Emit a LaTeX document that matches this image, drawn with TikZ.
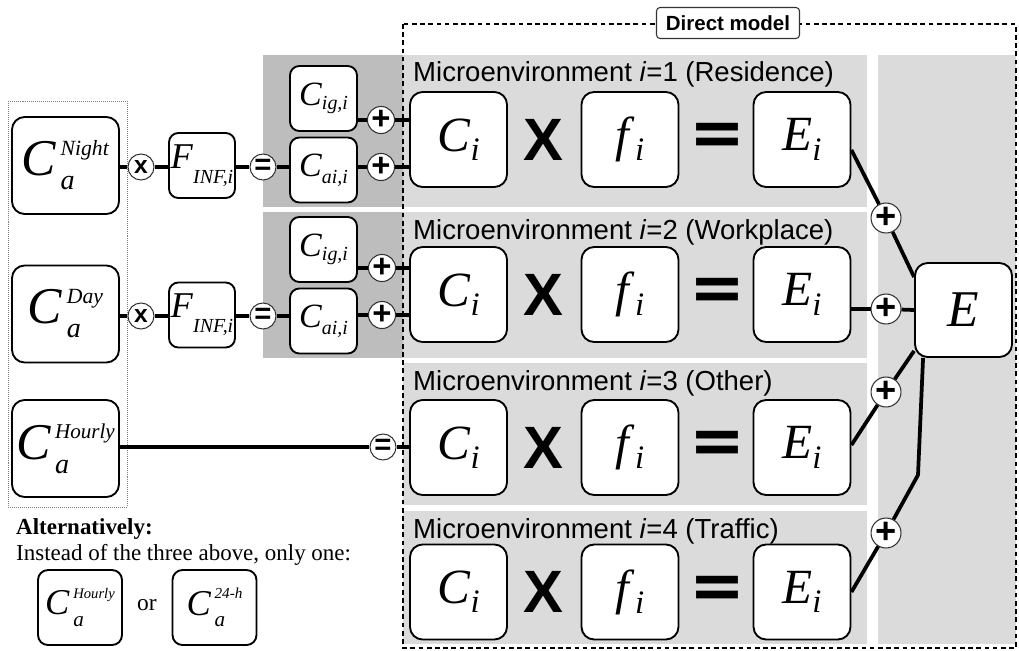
\documentclass[tikz,border=0pt]{standalone}
\usepackage{fontspec}
\setmainfont{Liberation Serif}
\newfontfamily\arial{Liberation Sans}
\newfontfamily\djv{DejaVu Sans}
\usetikzlibrary{calc}
\definecolor{lg}{gray}{0.86}
\definecolor{dg}{gray}{0.74}
% base size, base letter, sub size, sub text, sub drop
\newcommand\SymS[5]{{\fontsize{#1}{#1}\selectfont\textit{#2}}\raisebox{-#5}{\fontsize{#3}{#3}\selectfont\textit{#4}}}
% base size, base letter, sub size, sub text, sub drop, sup size, sup text, sup raise, gap
\newcommand\SymSS[9]{{\fontsize{#1}{#1}\selectfont\textit{#2}}\kern#9%
  \setbox0=\hbox{\fontsize{#6}{#6}\selectfont\textit{#7}}%
  \setbox2=\hbox{\fontsize{#3}{#3}\selectfont\textit{#4}}%
  \rlap{\raisebox{#8}{\copy0}}\raisebox{-#5}{\copy2}%
  \ifdim\wd0>\wd2 \kern\dimexpr\wd0-\wd2\relax\fi}
\begin{document}
\begin{tikzpicture}[x=0.03cm,y=-0.03cm,
  box/.style={draw=black, line width=1.6pt, fill=white, inner sep=0pt, rounded corners=0.38cm},
  bigbox/.style={box, minimum width=3.21cm, minimum height=2.91cm},
  mbox/.style={box, minimum width=2.91cm, minimum height=2.85cm},
  sbox/.style={box, rounded corners=0.28cm, minimum width=1.98cm, minimum height=1.95cm},
  abox/.style={box, rounded corners=0.3cm, minimum width=2.52cm, minimum height=2.25cm},
  opc/.style={circle, draw=black!80, line width=0.9pt, fill=white, inner sep=0pt, minimum size=0.78cm},
  opcr/.style={opc, minimum size=0.86cm},
  plus/.style={font=\arial\bfseries\fontsize{28pt}{28pt}\selectfont},
  conn/.style={line width=3.2pt, black},
  rowlab/.style={anchor=base west, inner sep=0pt, font=\arial\fontsize{23.5pt}{23.5pt}\selectfont},
  opX/.style={inner sep=0pt, font=\arial\bfseries\fontsize{51pt}{51pt}\selectfont},
  opEq/.style={inner sep=0pt, font=\djv\bfseries\fontsize{57pt}{57pt}\selectfont},
  dmlabel/.style={draw=black!80, line width=0.9pt, fill=white, rounded corners=3pt, minimum width=4.29cm, minimum height=0.93cm, inner sep=0pt, font=\arial\bfseries\fontsize{17.5pt}{17.5pt}\selectfont},
  serif/.style={anchor=base west, inner sep=0pt, font=\fontsize{19.6pt}{19.6pt}\selectfont}
]
\useasboundingbox (0,0) rectangle (1019,650);

% background panels
\fill[dg] (263,55) rectangle (403,207);
\fill[dg] (263,212) rectangle (403,358);
\fill[lg] (403,55) rectangle (867,207);
\fill[lg] (403,212) rectangle (867,358);
\fill[lg] (403,363) rectangle (867,505);
\fill[lg] (403,511) rectangle (867,644);
\fill[lg] (878,55) rectangle (1016,644);

% left dotted frame
\draw[gray, line width=0.7pt, densely dotted] (8,101) rectangle (127,507);

% direct model frame
\draw[line width=2.2pt, dash pattern=on 4pt off 3pt] (403,24) rectangle (1016,648);
\node[dmlabel] (dm) at (728,23) {Direct model};

% row labels
\node[rowlab] (l1) at (413,82) {Microenvironment \textit{i}=1 (Residence)};
\node[rowlab] (l2) at (413,239) {Microenvironment \textit{i}=2 (Workplace)};
\node[rowlab] (l3) at (413,390) {Microenvironment \textit{i}=3 (Other)};
\node[rowlab] (l4) at (413,538) {Microenvironment \textit{i}=4 (Traffic)};

% rows
\node[mbox] (Ci1) at (458.5,139.5) {\SymS{42pt}{C}{28pt}{i}{8pt}};
\node[opX] (X1) at (543,139.5) {X};
\node[mbox] (f1) at (630,139.5) {\SymS{42pt}{f}{28pt}{i}{8pt}};
\node[opEq] (q1) at (717,139.5) {=};
\node[mbox] (Ei1) at (802,139.5) {\SymS{42pt}{E}{28pt}{i}{8pt}};

\node[mbox] (Ci2) at (458.5,294.5) {\SymS{42pt}{C}{28pt}{i}{8pt}};
\node[opX] (X2) at (543,294.5) {X};
\node[mbox] (f2) at (630,294.5) {\SymS{42pt}{f}{28pt}{i}{8pt}};
\node[opEq] (q2) at (717,294.5) {=};
\node[mbox] (Ei2) at (802,294.5) {\SymS{42pt}{E}{28pt}{i}{8pt}};

\node[mbox] (Ci3) at (458.5,447.5) {\SymS{42pt}{C}{28pt}{i}{8pt}};
\node[opX] (X3) at (543,447.5) {X};
\node[mbox] (f3) at (630,447.5) {\SymS{42pt}{f}{28pt}{i}{8pt}};
\node[opEq] (q3) at (717,447.5) {=};
\node[mbox] (Ei3) at (802,447.5) {\SymS{42pt}{E}{28pt}{i}{8pt}};

\node[mbox] (Ci4) at (458.5,592) {\SymS{42pt}{C}{28pt}{i}{8pt}};
\node[opX] (X4) at (543,592) {X};
\node[mbox] (f4) at (630,592) {\SymS{42pt}{f}{28pt}{i}{8pt}};
\node[opEq] (q4) at (717,592) {=};
\node[mbox] (Ei4) at (802,592) {\SymS{42pt}{E}{28pt}{i}{8pt}};

% total
\node[box, minimum width=2.91cm, minimum height=2.82cm] (E) at (963.5,310) {{\fontsize{44pt}{44pt}\selectfont\textit{E}}};

% left inputs
\node[bigbox] (Ngt) at (65.5,165.5) {\SymSS{44pt}{C}{24pt}{a}{12pt}{18.5pt}{Night}{17pt}{3.5pt}};
\node[bigbox] (Day) at (65.5,314) {\SymSS{44pt}{C}{24pt}{a}{12pt}{18.5pt}{Day}{17pt}{3.5pt}};
\node[bigbox] (Hr) at (65.5,448.5) {\SymSS{44pt}{C}{24pt}{a}{12pt}{18pt}{Hourly}{18pt}{3.5pt}};

\node[sbox] (F1) at (202,165.5) {\SymS{31pt}{F}{17pt}{INF,i}{13pt}};
\node[sbox] (F2) at (202,315) {\SymS{31pt}{F}{17pt}{INF,i}{13pt}};

\node[sbox, minimum width=2.01cm] (Cig1) at (323.5,98.5) {\SymS{29pt}{C}{17pt}{ig,i}{4pt}};
\node[sbox, minimum width=2.01cm] (Cai1) at (323.5,170) {\SymS{29pt}{C}{17pt}{ai,i}{6pt}};
\node[sbox, minimum width=2.01cm] (Cig2) at (323.5,249.5) {\SymS{29pt}{C}{17pt}{ig,i}{4pt}};
\node[sbox, minimum width=2.01cm] (Cai2) at (323.5,321) {\SymS{29pt}{C}{17pt}{ai,i}{6pt}};

% operator circles
\node[opc, font=\arial\bfseries\fontsize{21pt}{21pt}\selectfont] (ox1) at (141,167) {x};
\node[opc, font=\arial\bfseries\fontsize{21pt}{21pt}\selectfont] (ox2) at (141,316) {x};
\node[opc, font=\arial\bfseries\fontsize{25pt}{25pt}\selectfont] (eq1) at (263,167) {=};
\node[opc, font=\arial\bfseries\fontsize{25pt}{25pt}\selectfont] (eq2) at (263,316) {=};
\node[opc, font=\arial\bfseries\fontsize{25pt}{25pt}\selectfont] (eq3) at (383,447) {=};
\node[opc, plus] (p1a) at (381,120) {+};
\node[opc, plus] (p1b) at (381,167) {+};
\node[opc, plus] (p2a) at (382,268) {+};
\node[opc, plus] (p2b) at (382,315) {+};
\node[opcr, plus, font=\arial\bfseries\fontsize{31pt}{31pt}\selectfont] (pr1) at (886,218) {+};
\node[opcr, plus, font=\arial\bfseries\fontsize{31pt}{31pt}\selectfont] (pr2) at (886,309) {+};
\node[opcr, plus, font=\arial\bfseries\fontsize{31pt}{31pt}\selectfont] (pr3) at (886,392) {+};
\node[opcr, plus, font=\arial\bfseries\fontsize{31pt}{31pt}\selectfont] (pr4) at (886,533) {+};

% connectors, left side
\draw[conn] (Ngt.east |- ox1) -- (ox1);
\draw[conn] (ox1) -- (F1.west |- ox1);
\draw[conn] (F1.east |- eq1) -- (eq1);
\draw[conn] (eq1) -- (Cai1.west |- eq1);
\draw[conn] (Cig1.east |- p1a) -- (p1a);
\draw[conn] (p1a) -- (Ci1.west |- p1a);
\draw[conn] (Cai1.east |- p1b) -- (p1b);
\draw[conn] (p1b) -- (Ci1.west |- p1b);

\draw[conn] (Day.east |- ox2) -- (ox2);
\draw[conn] (ox2) -- (F2.west |- ox2);
\draw[conn] (F2.east |- eq2) -- (eq2);
\draw[conn] (eq2) -- (Cai2.west |- eq2);
\draw[conn] (Cig2.east |- p2a) -- (p2a);
\draw[conn] (p2a) -- (Ci2.west |- p2a);
\draw[conn] (Cai2.east |- p2b) -- (p2b);
\draw[conn] (p2b) -- (Ci2.west |- p2b);

\draw[conn] (Hr.east |- eq3) -- (eq3);
\draw[conn] (eq3) -- (Ci3.west |- eq3);

% connectors, right side
\coordinate (bend4) at (918,475);
\draw[conn] ($(Ei1.east)+(0,10.5)$) -- (pr1);
\draw[conn] (pr1) -- ($(E.west)+(0,-33)$);
\draw[conn] (Ei2.east |- pr2) -- (pr2);
\draw[conn] (pr2) -- (E.west);
\draw[conn] ($(Ei3.east)+(0,-2.5)$) -- (pr3);
\draw[conn] (pr3) -- ($(E.south west)+(0,-7)$);
\draw[conn] (Ei4.east) -- (pr4);
\draw[conn, line join=round] (pr4) -- (bend4) -- ($(E.south west)+(9,0)$);

% alternatively
\node[serif] (alt) at (16,534) {\textbf{Alternatively:}};
\node[serif] (ins) at (16,560) {Instead of the three above, only one:};
\node[abox] (A1) at (80,607.5) {\SymSS{31pt}{C}{18pt}{a}{10pt}{12.5pt}{Hourly}{14pt}{3pt}};
\node[inner sep=0pt, font=\fontsize{20pt}{20pt}\selectfont] (or) at (147,605) {or};
\node[abox] (A2) at (214.5,607.5) {\SymSS{31pt}{C}{18pt}{a}{10pt}{13pt}{24-h}{14pt}{3pt}};
\end{tikzpicture}
\end{document}
